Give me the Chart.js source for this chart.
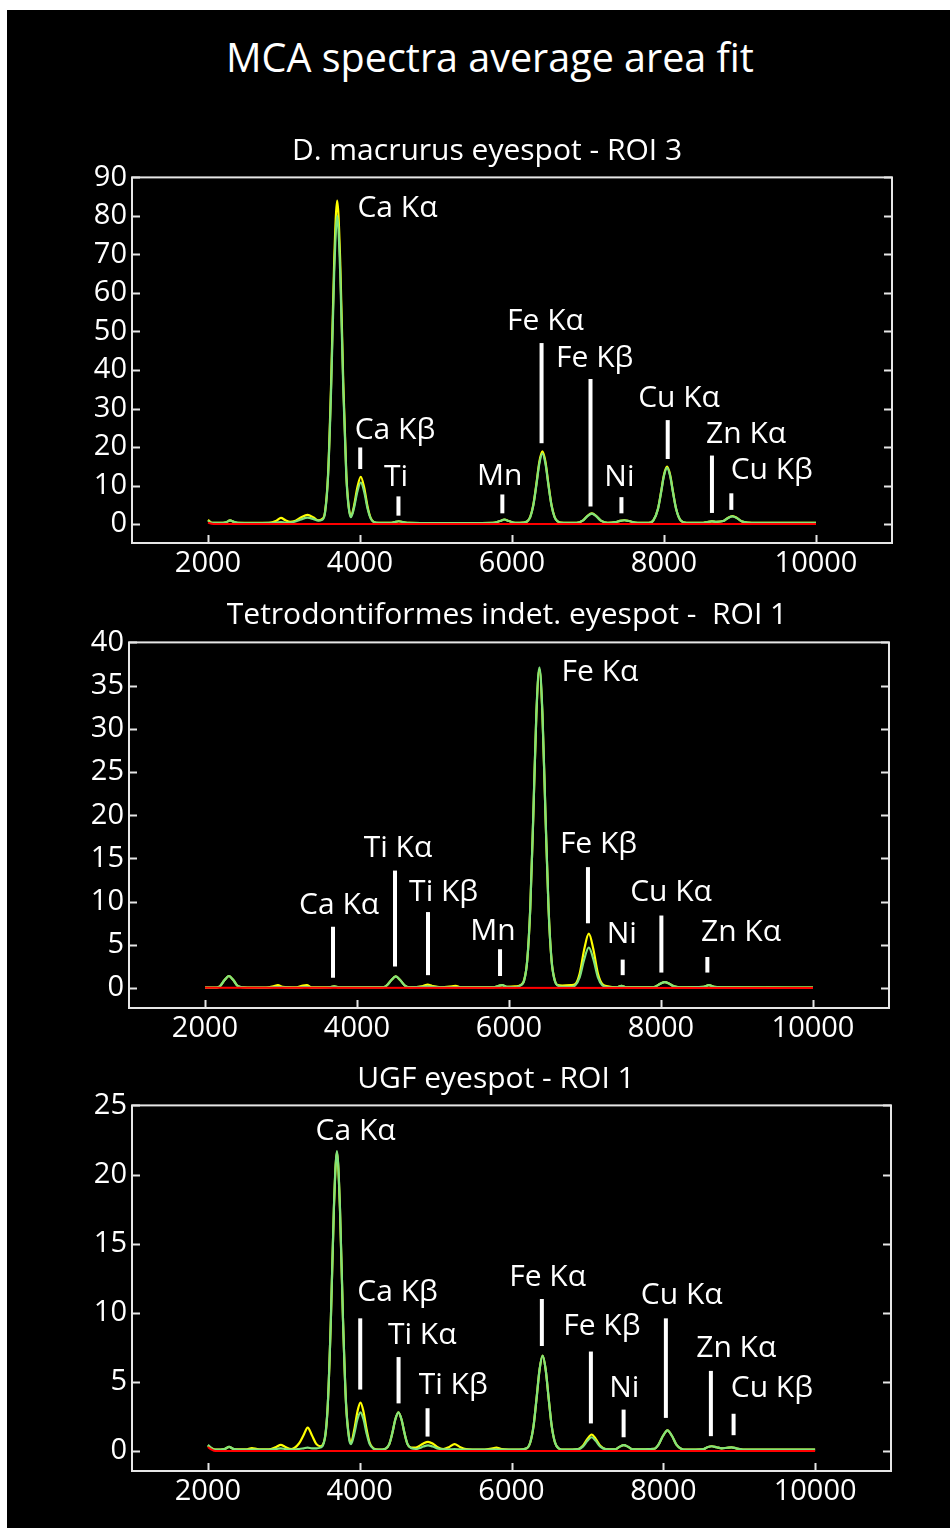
<!DOCTYPE html>
<html>
<head>
<meta charset="utf-8">
<script src="https://cdn.jsdelivr.net/npm/chart.js@4.4.1/dist/chart.umd.min.js"></script>
<style>
  html, body { margin: 0; padding: 0; background: #ffffff; }
  #page { position: relative; width: 950px; height: 1528px; overflow: hidden; background: #ffffff; }
  #black { position: absolute; left: 7px; top: 10px; width: 943px; height: 1518px; background: #000000; }
  canvas { position: absolute; left: 0; }
  .txt { position: absolute; width: 900px; text-align: center; color: #ffffff; font-family: "Open Sans", "Noto Sans", sans-serif; line-height: 1; white-space: pre; }
</style>
</head>
<body>
<div id="page">
  <div id="black"></div>
  <canvas id="c1" width="950" height="428" style="top:155px"></canvas>
  <canvas id="c2" width="950" height="428" style="top:620px"></canvas>
  <canvas id="c3" width="950" height="428" style="top:1083px"></canvas>
  <div class="txt" id="mainTitle" style="left:40px; top:38px; font-size:39.5px;"></div>
  <div class="txt" id="sub1" style="left:37px; top:134px; font-size:30px;"></div>
  <div class="txt" id="sub2" style="left:57px; top:598px; font-size:30px;"></div>
  <div class="txt" id="sub3" style="left:46px; top:1062px; font-size:30px;"></div>
</div>
<script>
// ---------------- text ----------------
const mainTitle = "MCA spectra average area fit";
const subtitles = ["D. macrurus eyespot - ROI 3", "Tetrodontiformes indet. eyespot -  ROI 1", "UGF eyespot - ROI 1"];

// ---------------- tick labels ----------------
const xTicks = [2000, 4000, 6000, 8000, 10000];
const yTicks1 = [0, 10, 20, 30, 40, 50, 60, 70, 80, 90];
const yTicks2 = [0, 5, 10, 15, 20, 25, 30, 35, 40];
const yTicks3 = [0, 5, 10, 15, 20, 25];

// ---------------- chart 1: D. macrurus eyespot - ROI 3 ----------------
const energy1 = [2000,2050,2150,2240,2290,2340,2400,2600,2800,2900,2960,3020,3080,3140,3220,3310,3390,3450,3500,3540,3580,3620,3660,3700,3740,3780,3820,3850,3880,3920,3965,4010,4055,4100,4140,4180,4250,4400,4450,4510,4570,4650,5000,5400,5750,5840,5900,5960,6040,6150,6200,6240,6280,6320,6360,6400,6440,6480,6520,6560,6600,6680,6850,6930,6990,7050,7110,7170,7260,7360,7420,7480,7540,7620,7800,7860,7920,7960,8000,8040,8080,8120,8160,8220,8300,8500,8570,8630,8690,8780,8840,8900,8960,9020,9100,9400,9700,10000];
const data1 = [1.1,0.35,0.3,0.5,0.95,0.6,0.3,0.3,0.35,0.9,1.6,1.0,0.6,0.8,1.7,2.4,1.7,1.0,1.3,3.2,13,36.6,68,84,68,36.6,13,4.8,2.0,4.6,9.5,12.3,9.5,4.5,1.6,0.6,0.3,0.3,0.5,0.75,0.5,0.3,0.25,0.25,0.3,0.8,1.2,0.8,0.35,0.4,0.7,1.9,4.95,10.3,16.2,18.9,16.2,10.3,4.95,1.9,0.7,0.3,0.3,0.9,2.1,2.8,2.1,0.9,0.35,0.5,0.85,1.0,0.8,0.4,0.3,0.95,3.95,8.2,12.8,14.9,12.8,8.2,3.95,0.95,0.35,0.3,0.55,0.7,0.6,0.8,1.6,2.1,1.6,0.75,0.4,0.3,0.3,0.3];
const fit1  = [0.9,0.3,0.3,0.5,0.95,0.6,0.3,0.25,0.3,0.4,0.5,0.4,0.4,0.6,1.2,1.7,1.3,0.9,1.1,3.0,12.5,35,65,80,65,35,12.4,4.5,1.8,4.1,8.4,10.8,8.4,4.0,1.5,0.55,0.3,0.3,0.5,0.75,0.5,0.3,0.25,0.25,0.3,0.8,1.2,0.8,0.35,0.4,0.7,1.8,4.8,10.0,15.7,18.3,15.7,10.0,4.8,1.8,0.7,0.3,0.3,0.9,2.0,2.7,2.0,0.9,0.35,0.5,0.85,1.0,0.8,0.4,0.3,0.95,3.9,8.0,12.55,14.6,12.55,8.0,3.9,0.95,0.35,0.3,0.55,0.7,0.6,0.8,1.55,2.0,1.55,0.75,0.4,0.3,0.3,0.3];
const bgEnergy1 = [2000, 2050, 2100, 10000];
const bg1 = [0.4, 0.1, 0, 0];
// [label, label energy, label value, bar energy, bar top, bar bottom]
const peaks1 = [
  ["Ca Kα", 4493, 81.9, null, null, null],
  ["Ca Kβ", 4460, 24.3, 4003, 19.9, 14.3],
  ["Ti", 4475, 11.9, 4506, 7.2, 2.2],
  ["Mn", 5837, 12.2, 5873, 7.7, 2.8],
  ["Fe Kα", 6441, 52.5, 6389, 47, 21],
  ["Fe Kβ", 7088, 42.8, 7033, 37.7, 4.6],
  ["Ni", 7413, 11.9, 7440, 7, 2.8],
  ["Cu Kα", 8198, 32.4, 8049, 27, 16.9],
  ["Zn Kα", 9080, 23.2, 8631, 17.8, 2.9],
  ["Cu Kβ", 9418, 13.8, 8886, 8, 3.7]
];

// ---------------- chart 2: Tetrodontiformes indet. eyespot - ROI 1 ----------------
const energy2 = [2000,2150,2200,2255,2315,2375,2430,2500,2800,2900,2960,3020,3200,3290,3340,3400,3640,3700,3760,4350,4390,4450,4510,4570,4630,4700,4870,4930,4990,5100,5250,5300,5360,5800,5860,5910,5970,6080,6150,6200,6240,6280,6320,6360,6400,6440,6480,6520,6560,6600,6640,6700,6820,6870,6930,6990,7050,7110,7170,7230,7300,7420,7480,7540,7900,7930,7990,8050,8110,8170,8240,8560,8630,8700,8800,10000];
const data2 = [0.05,0.05,0.25,0.9,1.4,0.9,0.25,0.1,0.05,0.2,0.35,0.15,0.1,0.3,0.35,0.1,0.1,0.2,0.1,0.1,0.3,0.9,1.35,0.9,0.3,0.1,0.25,0.4,0.25,0.1,0.2,0.25,0.1,0.1,0.25,0.35,0.15,0.2,0.35,0.95,3.2,9.3,20,31.6,36.9,31.6,20,9.3,3.2,1.0,0.35,0.3,0.35,0.45,1.7,4.5,6.3,4.5,1.7,0.45,0.2,0.1,0.25,0.1,0.1,0.2,0.5,0.7,0.5,0.2,0.1,0.15,0.35,0.15,0.1,0.05];
const fit2  = [0.05,0.05,0.25,0.9,1.4,0.9,0.25,0.1,0.05,0.1,0.12,0.1,0.05,0.12,0.15,0.05,0.1,0.2,0.1,0.1,0.3,0.9,1.35,0.9,0.3,0.1,0.15,0.2,0.15,0.1,0.1,0.1,0.1,0.1,0.25,0.35,0.15,0.1,0.3,0.9,3.2,9.3,20.1,31.8,37.1,31.8,20.1,9.3,3.2,0.9,0.3,0.15,0.15,0.3,1.25,3.35,4.7,3.35,1.25,0.3,0.1,0.1,0.25,0.1,0.1,0.2,0.5,0.7,0.5,0.2,0.1,0.15,0.35,0.15,0.1,0.05];
const bgEnergy2 = [2000, 10000];
const bg2 = [0.05, 0];
const peaks2 = [
  ["Ca Kα", 3765, 9.5, 3684, 7.1, 1.2],
  ["Ti Kα", 4539, 16.1, 4500, 13.6, 2.5],
  ["Ti Kβ", 5140, 11.0, 4934, 8.8, 1.5],
  ["Mn", 5789, 6.5, 5882, 4.5, 1.4],
  ["Fe Kα", 7197, 36.5, null, null, null],
  ["Fe Kβ", 7178, 16.6, 7039, 14, 7.5],
  ["Ni", 7483, 6.2, 7496, 3.3, 1.5],
  ["Cu Kα", 8132, 11.0, 8005, 8.4, 1.8],
  ["Zn Kα", 9053, 6.4, 8610, 3.6, 1.8]
];

// ---------------- chart 3: UGF eyespot - ROI 1 ----------------
const energy3 = [2000,2050,2100,2220,2280,2340,2500,2580,2650,2800,2900,2960,3020,3100,3200,3260,3315,3370,3430,3480,3540,3580,3620,3660,3700,3740,3780,3820,3860,3885,3930,3970,4010,4050,4090,4130,4180,4250,4340,4390,4430,4470,4510,4550,4590,4630,4680,4740,4780,4840,4900,4960,5020,5100,5180,5250,5320,5400,5600,5750,5800,5870,6100,6200,6250,6290,6330,6370,6410,6450,6490,6530,6570,6620,6700,6880,6940,7000,7056,7110,7170,7240,7360,7420,7480,7540,7600,7880,7935,7995,8055,8115,8175,8235,8300,8520,8580,8640,8700,8770,8840,8900,8960,9050,10000];
const data3 = [0.4,0.2,0.1,0.15,0.3,0.15,0.12,0.22,0.15,0.12,0.3,0.45,0.3,0.15,0.55,1.15,1.7,1.15,0.5,0.35,0.9,3.4,9.5,17.5,21.6,17.5,9.5,3.45,1.0,0.6,1.6,2.85,3.5,2.85,1.6,0.62,0.2,0.1,0.17,0.5,1.3,2.3,2.8,2.3,1.3,0.5,0.25,0.25,0.35,0.55,0.67,0.55,0.3,0.15,0.3,0.5,0.3,0.15,0.1,0.2,0.25,0.15,0.1,0.2,0.68,1.8,3.8,5.9,6.9,5.9,3.8,1.8,0.68,0.2,0.1,0.15,0.38,0.88,1.2,0.88,0.38,0.15,0.12,0.3,0.43,0.3,0.12,0.17,0.45,1.09,1.5,1.09,0.45,0.17,0.1,0.12,0.28,0.35,0.28,0.2,0.24,0.27,0.2,0.1,0.1];
const fit3  = [0.45,0.2,0.1,0.15,0.3,0.15,0.1,0.1,0.1,0.1,0.15,0.2,0.15,0.1,0.15,0.2,0.25,0.2,0.2,0.25,0.9,3.4,9.5,17.6,21.7,17.6,9.5,3.4,0.9,0.5,1.3,2.3,2.8,2.3,1.3,0.52,0.18,0.1,0.17,0.5,1.3,2.3,2.8,2.3,1.3,0.5,0.2,0.15,0.2,0.33,0.42,0.33,0.2,0.12,0.12,0.15,0.12,0.1,0.1,0.1,0.12,0.1,0.1,0.2,0.68,1.8,3.8,5.9,6.9,5.9,3.8,1.8,0.68,0.2,0.1,0.14,0.32,0.74,1.0,0.74,0.32,0.14,0.12,0.3,0.43,0.3,0.12,0.17,0.45,1.09,1.5,1.09,0.45,0.17,0.1,0.12,0.28,0.35,0.28,0.2,0.24,0.27,0.2,0.1,0.1];
const bgEnergy3 = [2000, 2050, 2100, 10000];
const bg3 = [0.3, 0.1, 0, 0];
const peaks3 = [
  ["Ca Kα", 3946, 23.1, null, null, null],
  ["Ca Kβ", 4499, 11.4, 4007, 9.6, 4.45],
  ["Ti Kα", 4824, 8.35, 4512, 6.8, 3.45],
  ["Ti Kβ", 5232, 4.7, 4894, 3.1, 1.05],
  ["Fe Kα", 6476, 12.5, 6400, 11, 7.6],
  ["Fe Kβ", 7191, 9.0, 7046, 7.2, 2.0],
  ["Ni", 7485, 4.5, 7477, 3.0, 1.0],
  ["Cu Kα", 8243, 11.2, 8034, 9.6, 2.4],
  ["Zn Kα", 8961, 7.4, 8627, 5.8, 1.08],
  ["Cu Kβ", 9431, 4.5, 8926, 2.7, 1.15]
];

// ---------------- titles ----------------
document.getElementById('mainTitle').textContent = mainTitle;
document.getElementById('sub1').textContent = subtitles[0];
document.getElementById('sub2').textContent = subtitles[1];
document.getElementById('sub3').textContent = subtitles[2];

// ---------------- drawing ----------------
const FONT = '"Open Sans", "Noto Sans", sans-serif';
const GREEN = '#80e27c';
const YELLOW = '#ffff00';
const RED = '#ff0000';

const framePlugin = {
  id: 'frame',
  afterDatasetsDraw(chart, args, opts) {
    const { ctx, chartArea: a } = chart;
    const xs = chart.scales.x, ys = chart.scales.y;
    ctx.save();
    ctx.strokeStyle = '#e6e6e6';
    ctx.lineWidth = 2;
    ctx.strokeRect(a.left, a.top, a.right - a.left, a.bottom - a.top);
    ctx.beginPath();
    ys.ticks.forEach(t => {
      const py = Math.round(ys.getPixelForValue(t.value)) + 0.5;
      ctx.moveTo(a.left, py); ctx.lineTo(a.left + 8, py);
      ctx.moveTo(a.right, py); ctx.lineTo(a.right - 8, py);
    });
    xs.ticks.forEach(t => {
      const px = Math.round(xs.getPixelForValue(t.value)) + 0.5;
      ctx.moveTo(px, a.bottom); ctx.lineTo(px, a.bottom - 8);
    });
    ctx.stroke();

    // peak annotations
    ctx.fillStyle = '#ffffff';
    ctx.strokeStyle = '#ffffff';
    ctx.lineWidth = 4;
    ctx.font = '30px ' + FONT;
    ctx.textAlign = 'center';
    ctx.textBaseline = 'alphabetic';
    (opts.marks || []).forEach(m => {
      const [label, tE, tV, lE, v1, v2] = m;
      ctx.fillText(label, xs.getPixelForValue(tE), ys.getPixelForValue(tV) + 8);
      if (lE !== null) {
        const px = xs.getPixelForValue(lE);
        ctx.beginPath();
        ctx.moveTo(px, ys.getPixelForValue(v1));
        ctx.lineTo(px, ys.getPixelForValue(v2));
        ctx.stroke();
      }
    });
    ctx.restore();
  }
};

function pts(xv, yv) { return xv.map((e, i) => ({ x: e, y: yv[i] })); }

function makeChart(id, cfg) {
  const tickFont = { family: FONT, size: 29 };
  return new Chart(document.getElementById(id), {
    type: 'line',
    data: {
      datasets: [
        { data: pts(cfg.bgE, cfg.bg), borderColor: RED, borderWidth: 2 },
        { data: pts(cfg.e, cfg.fit), borderColor: GREEN, borderWidth: 2.2 },
        { data: pts(cfg.e, cfg.dat), borderColor: YELLOW, borderWidth: 2.2 }
      ]
    },
    options: {
      responsive: false,
      animation: false,
      devicePixelRatio: 1,
      layout: { padding: { left: cfg.padL, right: cfg.padR, top: 20, bottom: 0 } },
      elements: {
        point: { radius: 0 },
        line: { cubicInterpolationMode: 'monotone', fill: false }
      },
      plugins: {
        legend: { display: false },
        tooltip: { enabled: false },
        title: { display: false },
        frame: { marks: cfg.marks }
      },
      scales: {
        x: {
          type: 'linear', min: 1000, max: 11000,
          grid: { display: false, drawTicks: false }, border: { display: false },
          afterBuildTicks: s => { s.ticks = xTicks.map(v => ({ value: v })); },
          afterFit: s => { s.height = 40; },
          ticks: { color: '#ffffff', font: tickFont, padding: 3, maxRotation: 0, autoSkip: false, callback: v => String(v) }
        },
        y: {
          type: 'linear', min: cfg.yMin, max: cfg.yMax,
          grid: { display: false, drawTicks: false }, border: { display: false },
          afterBuildTicks: s => { s.ticks = cfg.yTicks.map(v => ({ value: v })); },
          afterFit: s => { s.width = 80; },
          ticks: { color: '#ffffff', font: tickFont, padding: 5, autoSkip: false, callback: v => String(v) }
        }
      }
    },
    plugins: [framePlugin]
  });
}

makeChart('c1', { e: energy1, dat: data1, fit: fit1, bgE: bgEnergy1, bg: bg1, marks: peaks1, yTicks: yTicks1, yMin: -4.9, yMax: 90, padL: 52, padR: 58 });
makeChart('c2', { e: energy2, dat: data2, fit: fit2, bgE: bgEnergy2, bg: bg2, marks: peaks2, yTicks: yTicks2, yMin: -2.3, yMax: 40, padL: 49, padR: 61 });
makeChart('c3', { e: energy3, dat: data3, fit: fit3, bgE: bgEnergy3, bg: bg3, marks: peaks3, yTicks: yTicks3, yMin: -1.44, yMax: 25, padL: 52, padR: 59 });
</script>
</body>
</html>
